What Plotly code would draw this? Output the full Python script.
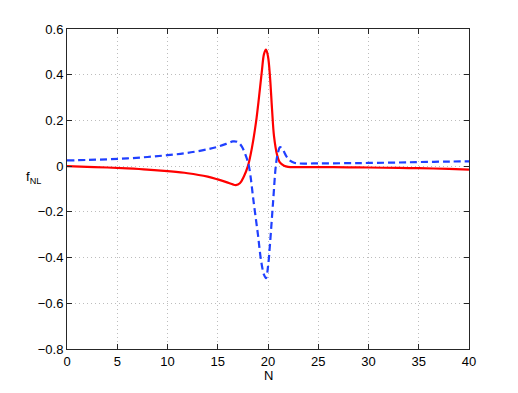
import plotly.graph_objects as go

# --- dados ---
n_red = [0, 2, 4, 6, 8, 10, 12, 14, 15, 16, 16.5, 16.8, 17.2, 17.6, 18.0, 18.4, 18.8, 19.1,
         19.4, 19.6, 19.8, 20.0, 20.2, 20.4, 20.6, 20.9, 21.2, 21.6, 22, 23, 25, 28, 30, 33, 35, 38, 40]
f_red = [0, -0.003, -0.006, -0.01, -0.015, -0.022, -0.031, -0.046, -0.058, -0.072, -0.08, -0.083,
         -0.075, -0.045, 0.0, 0.08, 0.19, 0.3, 0.42, 0.49, 0.51, 0.48, 0.39, 0.25, 0.13, 0.05, 0.015,
         0.002, -0.003, -0.004, -0.004, -0.005, -0.006, -0.008, -0.009, -0.012, -0.015]

n_blue = [0, 2, 4, 6, 8, 10, 12, 14, 15, 16, 16.5, 17, 17.4, 17.8, 18.1, 18.6, 19.0, 19.3, 19.6,
          19.8, 20.0, 20.2, 20.5, 20.8, 21.0, 21.2, 21.5, 21.8, 22.2, 22.6, 23, 25, 28, 30, 33, 35, 38, 40]
f_blue = [0.025, 0.027, 0.03, 0.034, 0.04, 0.048, 0.058, 0.074, 0.085, 0.1, 0.108, 0.105, 0.085,
          0.045, 0.0, -0.167, -0.3, -0.41, -0.475, -0.49, -0.44, -0.34, -0.16, 0.01, 0.06, 0.083,
          0.07, 0.045, 0.024, 0.015, 0.012, 0.012, 0.013, 0.014, 0.016, 0.018, 0.02, 0.021]

x_ticks = [0, 5, 10, 15, 20, 25, 30, 35, 40]
y_ticks = [-0.8, -0.6, -0.4, -0.2, 0, 0.2, 0.4, 0.6]

FONTE = dict(family="Liberation Sans, Arial, sans-serif", size=13, color="#000000")

fig = go.Figure()
fig.add_trace(go.Scatter(x=n_red, y=f_red, mode="lines", line=dict(color="#ff0000", width=2.2, shape="spline")))
fig.add_trace(go.Scatter(x=n_blue, y=f_blue, mode="lines",
                         line=dict(color="#2040ff", width=2.2, dash="7px,4px", shape="spline")))

eixo = dict(showline=True, linecolor="#262626", linewidth=1, mirror="allticks", ticks="inside",
            ticklen=5, tickcolor="#262626", showgrid=True, gridcolor="#bdbdbd", griddash="1px,3px",
            gridwidth=1, zeroline=False, tickfont=FONTE)

# a página tem 8px de margem no body: compensado nas margens
fig.update_layout(
    width=518, height=393, margin=dict(l=59, r=57, t=21, b=52),
    paper_bgcolor="white", plot_bgcolor="white", showlegend=False,
    xaxis=dict(eixo, range=[0, 40], tickvals=x_ticks, ticktext=[str(v) for v in x_ticks]),
    yaxis=dict(eixo, range=[-0.8, 0.6], tickvals=y_ticks,
               ticktext=[("\u2212" if v < 0 else "") + ("0" if v == 0 else f"{abs(v):.1f}") for v in y_ticks]),
)
fig.add_annotation(text="f<sub>NL</sub>", xref="paper", yref="paper", x=-0.06, y=0.535,
                   showarrow=False, font=FONTE, xanchor="right")
fig.add_annotation(text="N", xref="paper", yref="paper", x=0.5, y=-0.082,
                   showarrow=False, font=FONTE, yanchor="middle")

fig.write_html("out.html")
